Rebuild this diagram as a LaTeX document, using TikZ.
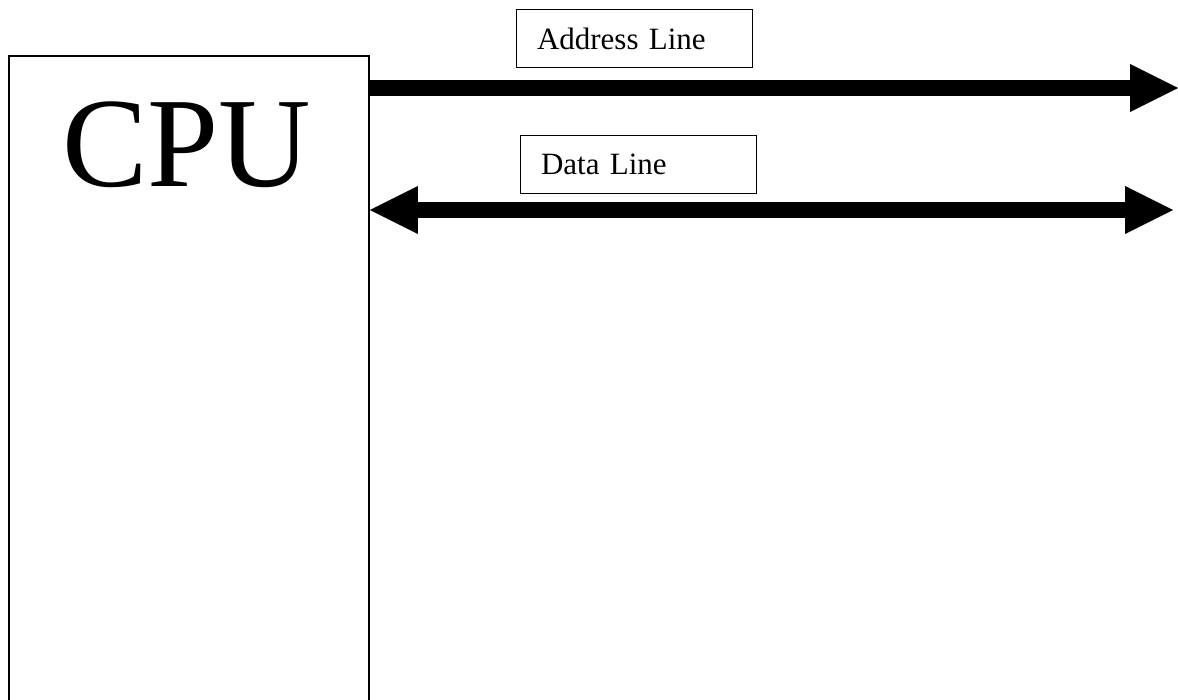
\documentclass[tikz,border=0pt]{standalone}
\usepackage{fontspec}
\setmainfont{Liberation Serif}
\usetikzlibrary{arrows.meta}
\begin{document}
\begin{tikzpicture}[x=1pt,y=-1pt,
  bus/.style={line width=16pt, draw=black},
  bighead/.tip={Triangle[length=48pt,width=48pt,line width=0pt]},
  lbl/.style={draw, line width=1pt, font=\fontsize{31}{31}\selectfont,
    minimum width=236pt, minimum height=58pt, text width=194pt,
    inner xsep=21pt, inner ysep=0pt, align=left}]
\clip (0,0) rectangle (1178,700);
\node[draw, line width=1.8pt, minimum width=360pt, minimum height=680pt,
  anchor=north west, inner sep=0pt] (cpu) at (8,55) {};
\node[anchor=base west, inner sep=0pt, font=\fontsize{128}{128}\selectfont] (cputext) at (62,187) {CPU};
\node[lbl] (addr) at (634,39) {Address Line};
\node[lbl] (data) at (638,164.5) {Data Line};
\coordinate (addrEnd) at (1178,88);
\coordinate (dataEnd) at (1173,210);
\draw[bus, -{bighead}] (cpu.east |- addrEnd) -- (addrEnd);
\draw[bus, {bighead}-{bighead}] (cpu.east |- dataEnd) -- (dataEnd);
\end{tikzpicture}
\end{document}
